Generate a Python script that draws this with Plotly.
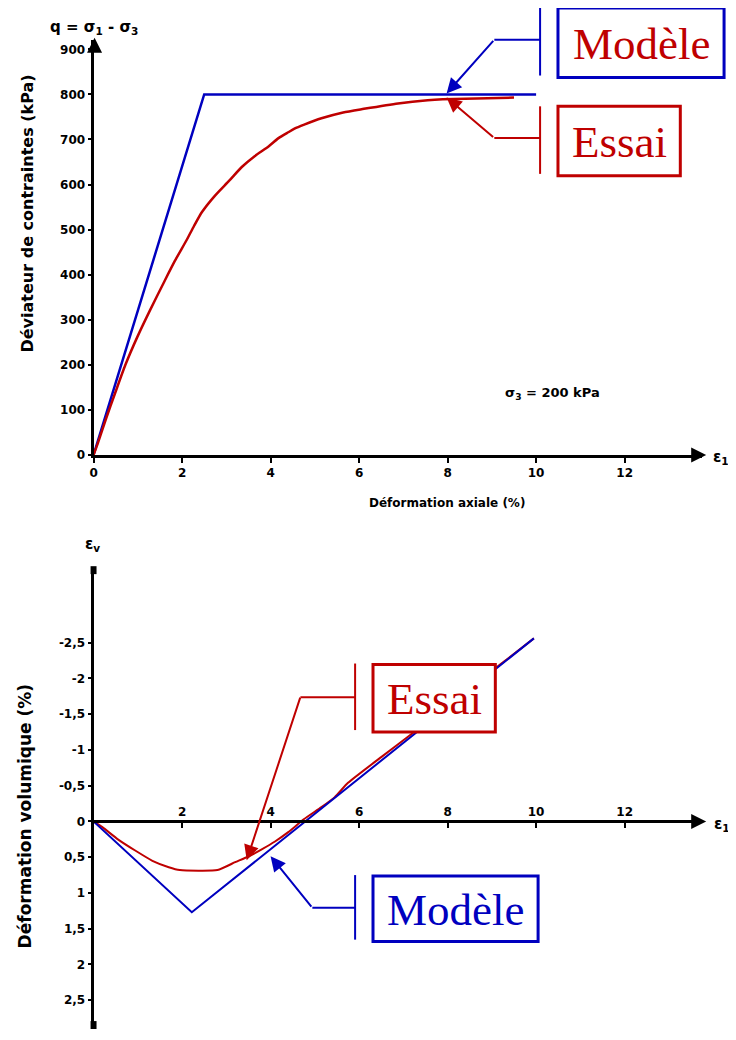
import plotly.graph_objects as go

# ---------------- data ----------------
# Top chart: deviator stress q (kPa) vs axial strain (%)
model_q_strain = [0, 2.5, 10.0]
model_q = [0, 800, 800]

test_q_strain = [0, 0.09, 0.27, 0.49, 0.72, 0.99, 1.28, 1.6, 1.84, 2.11, 2.27, 2.45,
                 2.74, 3.06, 3.35, 3.64, 3.96, 4.18, 4.4, 4.54, 4.76, 5.15, 5.64,
                 6.11, 6.88, 7.55, 7.89, 9.5]
test_q = [0, 24, 77, 138, 200, 262, 322, 385, 431, 478, 508, 539,
          575, 608, 639, 663, 685, 703, 716, 724, 733, 747, 760,
          768, 780, 787, 789, 793]

# Bottom chart: volumetric strain (%) vs axial strain (%)
model_v_strain = [0, 2.22, 9.95]
model_v = [0, 1.27, -2.56]

test_v_strain = [0, 0.2, 0.55, 0.95, 1.33, 1.7, 1.95, 2.8, 3.2, 3.5, 3.8, 4.1,
                 4.4, 4.75, 5.15, 5.45, 5.75, 6.5, 7.2, 9.2, 9.95]
test_v = [0, 0.08, 0.25, 0.41, 0.55, 0.64, 0.68, 0.68, 0.57, 0.49, 0.39, 0.28,
          0.15, -0.03, -0.2, -0.34, -0.54, -0.9, -1.23, -2.2, -2.56]

# ticks
top_x_ticks = [0, 2, 4, 6, 8, 10, 12]
top_y_ticks = [0, 100, 200, 300, 400, 500, 600, 700, 800, 900]
bot_x_ticks = [2, 4, 6, 8, 10, 12]
bot_y_ticks = [-2.5, -2, -1.5, -1, -0.5, 0, 0.5, 1, 1.5, 2, 2.5]
bot_y_ticktext = ["-2,5", "-2", "-1,5", "-1", "-0,5", "0", "0,5", "1", "1,5", "2", "2,5"]

# ---------------- styling ----------------
OFF = 8  # page body margin
W, H = 736 - OFF, 1040 - OFF
BLUE = "#0000BF"
RED = "#BF0000"
BLACK = "#000000"
SANS = "DejaVu Sans"


def px(x):
    return (x - OFF) / W


def py(y):
    return 1 - (y - OFF) / H


X0, X1 = 90, 702
XSCALE = 44.5  # px per % strain
xr = [0, (X1 - X0) / XSCALE]

fig = go.Figure()

fig.add_trace(go.Scatter(x=model_q_strain, y=model_q, mode="lines",
                         line=dict(color=BLUE, width=2.5), xaxis="x", yaxis="y"))
fig.add_trace(go.Scatter(x=test_q_strain, y=test_q, mode="lines",
                         line=dict(color=RED, width=2.5, shape="spline", smoothing=0.6),
                         xaxis="x", yaxis="y"))
fig.add_trace(go.Scatter(x=test_v_strain, y=test_v, mode="lines",
                         line=dict(color=RED, width=2, shape="spline", smoothing=0.5),
                         xaxis="x2", yaxis="y2"))
fig.add_trace(go.Scatter(x=model_v_strain, y=model_v, mode="lines",
                         line=dict(color=BLUE, width=2), xaxis="x2", yaxis="y2"))

tickfont = dict(family=SANS, size=12, color=BLACK, weight="bold")

# top axes: q = 0 at y=458 px, 800 at y=95 px
top_y0, top_y1 = 458, 40
qscale = (top_y0 - 95) / 800
fig.update_layout(
    xaxis=dict(domain=[px(X0), px(X1)], range=xr, anchor="y", showline=True,
               linewidth=3, linecolor=BLACK, ticks="outside", ticklen=5, tickwidth=2,
               tickcolor=BLACK, tickvals=top_x_ticks, showgrid=False, zeroline=False,
               tickfont=tickfont),
    yaxis=dict(domain=[py(top_y0), py(top_y1)], range=[0, (top_y0 - top_y1) / qscale],
               anchor="x", showline=True, linewidth=3, linecolor=BLACK, ticks="outside",
               ticklen=3, tickwidth=2, tickcolor=BLACK, tickvals=top_y_ticks,
               showgrid=False, zeroline=False, tickfont=tickfont),
)

# bottom axes: ev = 0 at y=827 px, 72 px per %
b_zero, b_top, b_bot = 827, 573, 1033
vscale = 72
fig.update_layout(
    xaxis2=dict(domain=[px(X0), px(X1)], range=xr, anchor="free", position=py(b_zero),
                side="top", showline=True, linewidth=3, linecolor=BLACK, ticks="inside",
                ticklen=5, tickwidth=2, tickcolor=BLACK, tickvals=bot_x_ticks,
                showgrid=False, zeroline=False, tickfont=tickfont),
    yaxis2=dict(domain=[py(b_bot), py(b_top)],
                range=[(b_bot - b_zero) / vscale, (b_top - b_zero) / vscale],
                anchor="x2", showline=True, linewidth=3, linecolor=BLACK, ticks="outside",
                ticklen=3, tickwidth=2, tickcolor=BLACK, tickvals=bot_y_ticks,
                ticktext=bot_y_ticktext, showgrid=False, zeroline=False, tickfont=tickfont),
)

annotations = []
shapes = []


def text(x, y, s, size, color=BLACK, angle=0, family=SANS, bold=True):
    annotations.append(dict(x=px(x), y=py(y), xref="paper", yref="paper", text=s,
                            showarrow=False, textangle=angle, xanchor="center",
                            yanchor="middle",
                            font=dict(family=family, size=size, color=color,
                                      weight="bold" if bold else "normal")))


def arrow(tipx, tipy, tailx, taily, color, width=2, size=1.5, head=2):
    annotations.append(dict(x=px(tipx), y=py(tipy), xref="paper", yref="paper", text="",
                            showarrow=True, ax=tailx - tipx, ay=taily - tipy,
                            arrowhead=head, arrowsize=size, arrowwidth=width,
                            arrowcolor=color))


def line(x0, y0, x1, y1, color, width=2):
    shapes.append(dict(type="line", xref="paper", yref="paper", x0=px(x0), y0=py(y0),
                       x1=px(x1), y1=py(y1), line=dict(color=color, width=width),
                       layer="above"))


def box(x0, y0, x1, y1, color, width=3):
    shapes.append(dict(type="rect", xref="paper", yref="paper", x0=px(x0), y0=py(y0),
                       x1=px(x1), y1=py(y1), line=dict(color=color, width=width),
                       fillcolor="white", layer="above"))


# axis decorations
arrow(91, 38, 91, 52, BLACK, width=3, size=1, head=2)
arrow(706, 458, 692, 458, BLACK, width=3, size=1, head=2)
arrow(706, 827, 692, 827, BLACK, width=3, size=1, head=2)
shapes.append(dict(type="rect", xref="paper", yref="paper", x0=px(87), x1=px(93),
                   y0=py(570), y1=py(578), fillcolor=BLACK, line=dict(width=0)))
shapes.append(dict(type="rect", xref="paper", yref="paper", x0=px(87), x1=px(93),
                   y0=py(1028), y1=py(1036), fillcolor=BLACK, line=dict(width=0)))

# titles / labels
text(90, 28, "q = σ<sub>1</sub> - σ<sub>3</sub>", 15)
text(24, 215, "Déviateur de contraintes (kPa)", 16, angle=-90)
text(445, 506, "Déformation axiale (%)", 12)
text(551, 396, "σ<sub>3</sub> = 200 kPa", 13)
text(721, 461, "ε<sub>1</sub>", 15)
text(89, 548, "ε<sub>v</sub>", 15)
text(722, 830, "ε<sub>1</sub>", 15)
text(22, 822, "Déformation volumique (%)", 17, angle=-90)

SERIF = "Liberation Serif"
# top callouts
box(557, 8, 724, 78, BLUE)
text(641, 44, "Modèle", 45, color=RED, family=SERIF, bold=False)
line(539, 7, 539, 76, BLUE)
line(539, 40, 493, 40, BLUE)
arrow(445, 94, 493, 40, BLUE)

box(557, 107, 680, 177, RED)
text(619, 143, "Essai", 45, color=RED, family=SERIF, bold=False)
line(539, 107, 539, 175, RED)
line(539, 139, 493, 139, RED)
arrow(445, 98, 493, 139, RED)

# bottom callouts
box(371, 669, 494, 737, RED)
text(433, 704, "Essai", 45, color=RED, family=SERIF, bold=False)
line(353, 668, 353, 735, RED)
line(353, 702, 298, 702, RED)
arrow(244, 866, 298, 702, RED)

box(371, 882, 537, 948, BLUE)
text(454, 916, "Modèle", 45, color=BLUE, family=SERIF, bold=False)
line(353, 881, 353, 946, BLUE)
line(353, 914, 310, 914, BLUE)
arrow(268, 862, 310, 914, BLUE)

fig.update_layout(width=W, height=H, margin=dict(l=0, r=0, t=0, b=0),
                  paper_bgcolor="white", plot_bgcolor="white", showlegend=False,
                  annotations=annotations, shapes=shapes)

fig.write_html("out.html")
